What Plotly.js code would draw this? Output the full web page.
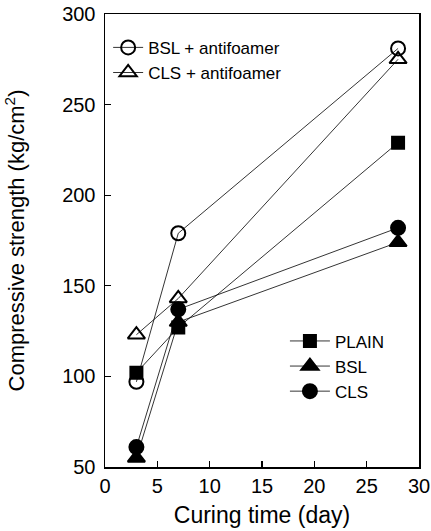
<!DOCTYPE html>
<html>
<head>
<meta charset="utf-8">
<script src="https://cdn.plot.ly/plotly-3.0.1.min.js"></script>
<style>html,body{margin:0;padding:0;background:#fff;}#chart{width:431px;height:531px;}</style>
</head>
<body>
<div id="chart"></div>
<script>
const days = [3, 7, 28];
const seriesNames = ["BSL + antifoamer", "CLS + antifoamer", "PLAIN", "BSL", "CLS"];
const bslAntifoamer = [97, 179, 281];
const clsAntifoamer = [123, 143, 275];
const plain = [102, 127, 229];
const bsl = [55, 130, 174];
const cls = [61, 137, 182];
const xTickVals = [0, 5, 10, 15, 20, 25, 30];
const yTickVals = [50, 100, 150, 200, 250, 300];

const values = [bslAntifoamer, clsAntifoamer, plain, bsl, cls];
const symbols = ["circle-open", "triangle-up-open", "square", "triangle-up", "circle"];
const sizes = [14, 15, 12, 15, 14];
const legends = ["legend", "legend", "legend2", "legend2", "legend2"];

const traces = values.map((v, i) => ({
  x: days, y: v, name: seriesNames[i], type: "scatter", mode: "lines+markers",
  line: {color: "#000", width: 0.8},
  marker: {symbol: symbols[i], size: sizes[i], color: "#000", line: {color: "#000", width: 2}},
  legend: legends[i]
}));

const font = {family: "Liberation Sans, Arial, sans-serif", color: "#000"};
const layout = {
  width: 431, height: 531,
  margin: {l: 105, r: 12, t: 14, b: 64},
  paper_bgcolor: "#fff", plot_bgcolor: "#fff",
  font: Object.assign({}, font, {size: 20}),
  showlegend: true,
  xaxis: {
    range: [0, 30], tickvals: xTickVals, ticks: "inside", ticklen: 6, tickwidth: 1.2,
    tickcolor: "#000", showline: true, linecolor: "#000", linewidth: 1.5, mirror: true,
    showgrid: false, zeroline: false, tickfont: {size: 20},
    title: {text: "Curing time (day)", font: {size: 23}, standoff: 11}
  },
  yaxis: {
    range: [50, 300], tickvals: yTickVals, ticks: "inside", ticklen: 6, tickwidth: 1.2,
    tickcolor: "#000", showline: true, linecolor: "#000", linewidth: 1.5, mirror: true,
    showgrid: false, zeroline: false, tickfont: {size: 20}, ticklabelstandoff: 4,
    title: {text: "Compressive strength (kg/cm<sup>2</sup>)", font: {size: 22}, standoff: 31}
  },
  legend: {x: 0.01, y: 0.965, xanchor: "left", yanchor: "top", bgcolor: "rgba(0,0,0,0)",
           font: {size: 17}, tracegroupgap: 0},
  legend2: {x: 0.573, y: 0.317, xanchor: "left", yanchor: "top", bgcolor: "rgba(0,0,0,0)",
            font: {size: 17}, tracegroupgap: 0, itemwidth: 40}
};
Plotly.newPlot("chart", traces, layout, {displayModeBar: false, staticPlot: true});
</script>
</body>
</html>
